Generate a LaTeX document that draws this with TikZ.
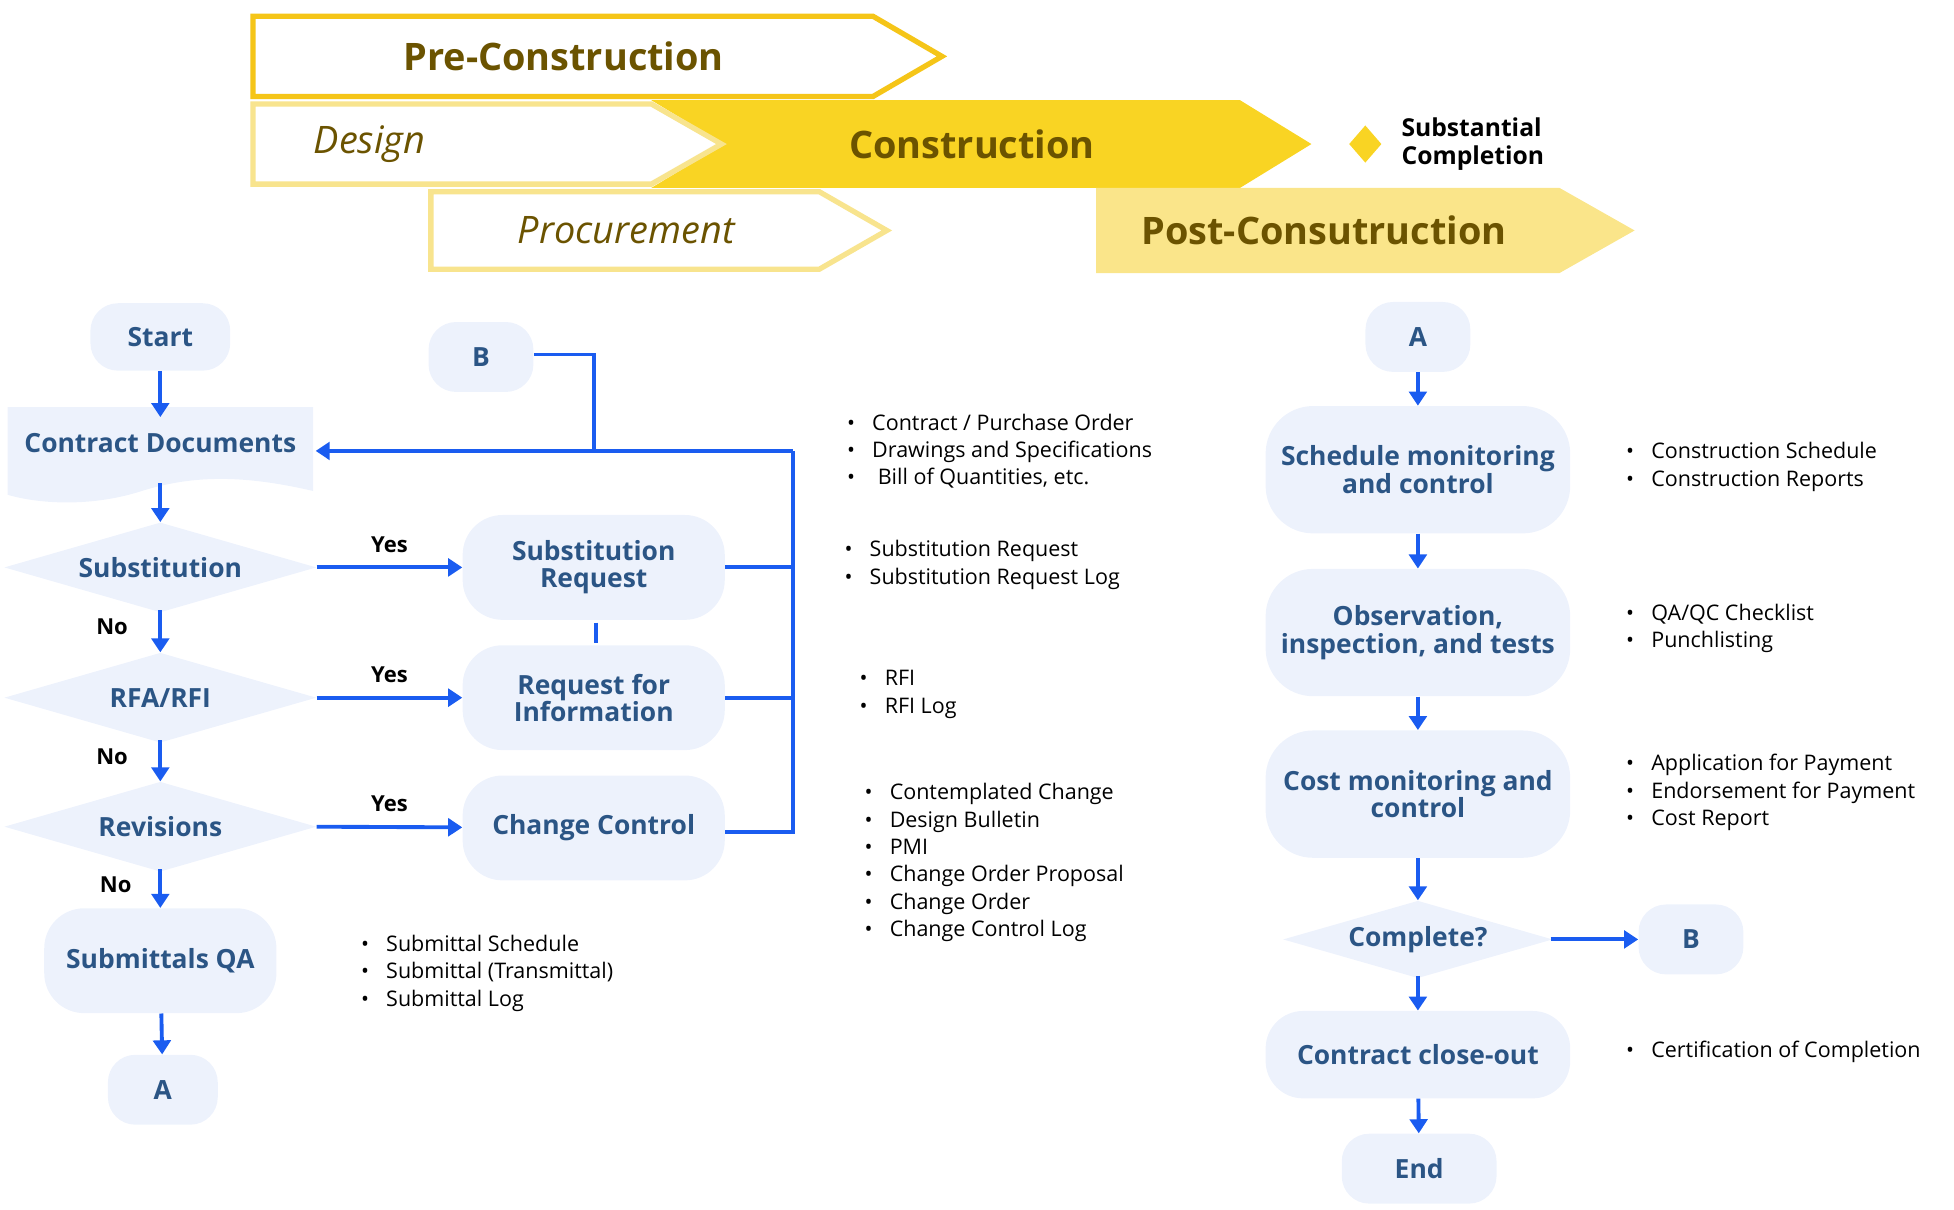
\documentclass[tikz,border=0pt]{standalone}
\usepackage{fontspec}
\setmainfont{Open Sans}
\usetikzlibrary{shapes.geometric,positioning,arrows.meta}
\definecolor{gold}{HTML}{F5C518}
\definecolor{paleg}{HTML}{F8E48E}
\definecolor{fillc}{HTML}{F9D423}
\definecolor{postc}{HTML}{FAE58A}
\definecolor{brownt}{HTML}{6B5300}
\definecolor{flowf}{HTML}{EDF2FC}
\definecolor{flowt}{HTML}{2B5585}
\definecolor{lineb}{HTML}{1A5CF0}
\newdimen\pxu \pxu=0.7087pt
\tikzset{
  term/.style={rounded corners=22\pxu,fill=flowf,text=flowt,font=\fontsize{15}{15.5}\selectfont\bfseries,align=center,inner sep=0},
  dec/.style={diamond,aspect=3.5,fill=flowf,text=flowt,font=\fontsize{15}{15.5}\selectfont\bfseries,inner sep=0},
  flow/.style={draw=lineb,line width=2.2pt,-{Triangle[length=8pt,width=10pt]}},
  link/.style={draw=lineb,line width=2.2pt},
  lbl/.style={font=\fontsize{12.5}{14}\selectfont\bfseries},
  list/.style={anchor=north west,align=left,inner sep=0,font=\fontsize{12.2}{15.6}\selectfont},
  phase/.style={font=\fontsize{21.5}{23}\selectfont\bfseries,text=brownt},
  phasei/.style={font=\fontsize{21.5}{23}\selectfont\itshape,text=brownt}
}
\newcommand{\bul}{{\large\textbullet}\hspace{0.8em}}
\begin{document}
\begin{tikzpicture}[x=0.025cm,y=-0.025cm]
\useasboundingbox (0,0) rectangle (1560,966);
% phase banners
\fill[fillc] (520,80) -- (990,80) -- (1047,115) -- (990,150) -- (520,150) -- (578,115) -- cycle;
\fill[postc] (875,150) -- (1245,150) -- (1305,184) -- (1245,218) -- (875,218) -- cycle;
\draw[gold,line width=3pt,fill=white] (202,13) -- (697,13) -- (752,45) -- (697,77) -- (202,77) -- cycle;
\draw[paleg,line width=3pt,fill=white] (202,83) -- (520,83) -- (576,115) -- (520,147) -- (202,147) -- cycle;
\draw[paleg,line width=3pt,fill=white] (344,153) -- (654,153) -- (708,184) -- (654,215) -- (344,215) -- cycle;
\node[phase] (pre) at (450,45) {Pre-Construction};
\node[phasei] (des) at (295,115) {Design};
\node[phase] (con) at (776,115) {Construction};
\node[phasei] (pro) at (500,184) {Procurement};
\node[phase] (post) at (1057,184) {Post-Consutruction};
\node[diamond,fill=fillc,minimum width=26\pxu,minimum height=30\pxu,inner sep=0] (milestone) at (1090,115) {};
\node[anchor=west,align=left,font=\fontsize{14}{16}\selectfont\bfseries] (subcomp) at (1114,115) {Substantial\\Completion};
% left flow
\node[term,minimum width=112\pxu,minimum height=54\pxu] (start) at (128,269) {Start};
\fill[flowf] (6,325) -- (250,325) -- (250,392) .. controls (190,378) and (150,380) .. (110,393) .. controls (70,405) and (30,402) .. (6,395) -- cycle;
\node[text=flowt,font=\fontsize{15}{15.5}\selectfont\bfseries,inner sep=0] (cdoc) at (128,354) {Contract Documents};
\node[dec,minimum width=250\pxu,minimum height=72\pxu] (subst) at (128,453) {Substitution};
\node[dec,minimum width=250\pxu,minimum height=72\pxu] (rfa) at (128,557) {RFA/RFI};
\node[dec,minimum width=250\pxu,minimum height=72\pxu] (rev) at (128,660) {Revisions};
\node[term,minimum width=186\pxu,minimum height=84\pxu,rounded corners=32\pxu] (subqa) at (128,767) {Submittals QA};
\node[term,minimum width=88\pxu,minimum height=56\pxu] (aout) at (130,870) {A};
\node[term,minimum width=84\pxu,minimum height=56\pxu] (bin) at (384,285) {B};
\node[term,minimum width=210\pxu,minimum height=84\pxu,rounded corners=32\pxu] (subreq) at (474,453) {Substitution\\Request};
\node[term,minimum width=210\pxu,minimum height=84\pxu,rounded corners=32\pxu] (rfi) at (474,557) {Request for\\Information};
\node[term,minimum width=210\pxu,minimum height=84\pxu,rounded corners=32\pxu] (chg) at (474,661) {Change Control};
\coordinate (cdl) at (252,360);
\coordinate (cdt) at (128,333);
\coordinate (cdb) at (128,386);
\coordinate (jb) at (474,360);
\coordinate (jr) at (633,360);
\draw[flow] (start) -- (cdt);
\draw[flow] (cdb) -- (subst.north);
\draw[flow] (subst.south) ++(0,-2) -- node[lbl,left=14pt,pos=0.4]{No} (rfa.north);
\draw[flow] (rfa.south) ++(0,-2) -- node[lbl,left=14pt,pos=0.4]{No} (rev.north);
\draw[flow] (rev.south) ++(0,-2) -- node[lbl,left=12pt,pos=0.4]{No} (subqa);
\draw[flow] (subqa) -- (aout);
\draw[flow] (subst.east) -- node[lbl,above=4pt]{Yes} (subreq);
\draw[flow] (rfa.east) -- node[lbl,above=4pt]{Yes} (rfi);
\draw[flow] (rev.east) -- node[lbl,above=4pt]{Yes} (chg);
\draw[link] (subreq.south) ++(2,2) -- ++(0,16);
\draw[link] (subreq.east) -| (jr);
\draw[link] (rfi.east) -| (jr);
\draw[link] (chg.east) ++(0,3) -| (jr);
\draw[flow] (jr) -- (cdl);
\draw[link] (bin.east) ++(0,-2) -| (jb);
% lists
\node[list] (l1) at (676,330) {\bul Contract / Purchase Order\\\bul Drawings and Specifications\\\bul\ Bill of Quantities, etc.};
\node[list] (l2) at (674,431) {\bul Substitution Request\\\bul Substitution Request Log};
\node[list] (l3) at (686,535) {\bul RFI\\\bul RFI Log};
\node[list] (l4) at (690,625) {\bul Contemplated Change\\\bul Design Bulletin\\\bul PMI\\\bul Change Order Proposal\\\bul Change Order\\\bul Change Control Log};
\node[list] (l5) at (288,746) {\bul Submittal Schedule\\\bul Submittal (Transmittal)\\\bul Submittal Log};
% right flow
\node[term,minimum width=84\pxu,minimum height=56\pxu] (ain) at (1132,269) {A};
\node[term,minimum width=244\pxu,minimum height=102\pxu,rounded corners=38\pxu] (sched) at (1132,375) {Schedule monitoring\\and control};
\node[term,minimum width=244\pxu,minimum height=102\pxu,rounded corners=38\pxu] (obs) at (1132,505) {Observation,\\inspection, and tests};
\node[term,minimum width=244\pxu,minimum height=102\pxu,rounded corners=38\pxu] (cost) at (1132,634) {Cost monitoring and\\control};
\node[dec,minimum width=216\pxu,minimum height=62\pxu] (compl) at (1132,750) {Complete?};
\node[term,minimum width=84\pxu,minimum height=56\pxu] (bout) at (1350,750) {B};
\node[term,minimum width=244\pxu,minimum height=70\pxu,rounded corners=30\pxu] (close) at (1132,842) {Contract close-out};
\node[term,minimum width=124\pxu,minimum height=56\pxu] (end) at (1133,933) {End};
\draw[flow] (ain) -- (sched);
\draw[flow] (sched) -- (obs);
\draw[flow] (obs) -- (cost);
\draw[flow] (cost) -- (compl.north);
\draw[flow] (compl.south) ++(0,-2) -- (close);
\draw[flow] (close) -- (end);
\draw[flow] (compl.east) ++(-2,0) -- (bout);
\node[list] (r1) at (1298,353) {\bul Construction Schedule\\\bul Construction Reports};
\node[list] (r2) at (1298,482) {\bul QA/QC Checklist\\\bul Punchlisting};
\node[list] (r3) at (1298,602) {\bul Application for Payment\\\bul Endorsement for Payment\\\bul Cost Report};
\node[list] (r4) at (1298,831) {\bul Certification of Completion};
\end{tikzpicture}
\end{document}
